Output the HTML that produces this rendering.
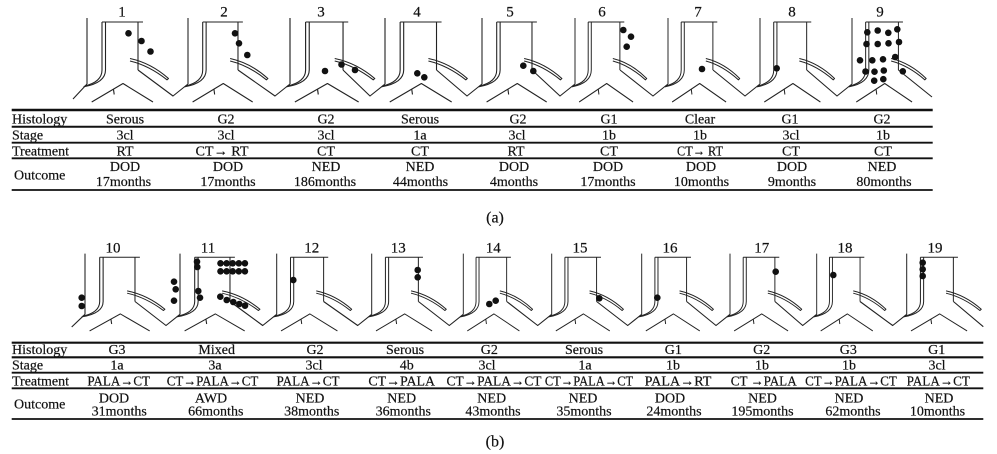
<!DOCTYPE html>
<html>
<head>
<meta charset="utf-8">
<style>
html,body{margin:0;padding:0;background:#fff;}
svg{display:block;}
text{font-family:"Liberation Serif","DejaVu Serif",serif;fill:#111;stroke:#111;stroke-width:0.2;}
</style>
</head>
<body>
<svg width="997" height="454" viewBox="0 0 997 454" xmlns="http://www.w3.org/2000/svg">
<rect width="997" height="454" fill="#fff"/>
<defs>
<g id="v" fill="none" stroke="#222" stroke-width="1.1" stroke-linejoin="round">
<path d="M0,-4 L0,62"/>
<path d="M15,0 L15,48 Q15,60 -2.5,64"/>
<path d="M18.5,0 L18.5,48 Q18.5,61 -3.5,64.8"/>
<path d="M15,0 L56,0"/>
<path d="M51,0 L51,48"/>
<path d="M43,36.5 Q64,41 81.5,56.5 L80,57.8 Q62,43.5 43,39"/>
<path d="M4.7,80 L36,61.5 L66,80"/>
<path d="M26.5,67.5 L27.2,72.5"/>
</g>
</defs>

<!-- ===== (a) vessel drawings ===== -->
<use href="#v" transform="translate(87,22) scale(1,1)"/>
<use href="#v" transform="translate(188,22) scale(.98,1)"/>
<use href="#v" transform="translate(290,22) scale(1.04,1)"/>
<use href="#v" transform="translate(385,22) scale(1.01,1)"/>
<use href="#v" transform="translate(482,22) scale(.98,1)"/>
<use href="#v" transform="translate(575,22) scale(.88,1)"/>
<use href="#v" transform="translate(668,22) scale(.88,1)"/>
<use href="#v" transform="translate(760,22) scale(.915,1)"/>
<use href="#v" transform="translate(852,22) scale(.91,1)"/>
<path fill="none" stroke="#222" stroke-width="1.1" stroke-linejoin="round" d="
M73,99 L87,84
M138,70 L173,96 L188,84
M238,70 L275,96 L290,84
M343,70 L370,96 L385,84
M436.5,70 L467,96 L482,84
M532,70 L560,96 L575,84
M620,70 L653,96 L668,84
M713,70 L745,96 L760,84
M806.7,70 L837,96 L852,84
M898.4,70 L932,97"/>

<g fill="#111">
<circle cx="128.5" cy="33.3" r="3.3"/><circle cx="141.5" cy="41" r="3.3"/><circle cx="150.5" cy="51.5" r="3.3"/>
<circle cx="235" cy="33.3" r="3.3"/><circle cx="239" cy="43.3" r="3.3"/><circle cx="247.3" cy="55" r="3.3"/>
<circle cx="325" cy="71" r="3.3"/><circle cx="341.5" cy="64.5" r="3.3"/><circle cx="355" cy="70" r="3.3"/>
<circle cx="417.3" cy="73.3" r="3.3"/><circle cx="424.3" cy="77.3" r="3.3"/>
<circle cx="523.3" cy="65.7" r="3.3"/><circle cx="533.3" cy="71" r="3.3"/>
<circle cx="623.3" cy="30" r="3.3"/><circle cx="631" cy="36.7" r="3.3"/><circle cx="626.7" cy="46.7" r="3.3"/>
<circle cx="702" cy="69" r="3.3"/>
<circle cx="776.7" cy="68.3" r="3.3"/>
<circle cx="867.3" cy="32.3" r="3.3"/><circle cx="877.7" cy="30.5" r="3.3"/><circle cx="888.3" cy="32.8" r="3.3"/><circle cx="897.3" cy="29.3" r="3.3"/>
<circle cx="866.5" cy="44" r="3.3"/><circle cx="877.7" cy="44" r="3.3"/><circle cx="888.5" cy="43.3" r="3.3"/><circle cx="899" cy="42" r="3.3"/>
<circle cx="860" cy="60.3" r="3.3"/><circle cx="872.3" cy="60.3" r="3.3"/><circle cx="883" cy="59.3" r="3.3"/><circle cx="895.2" cy="57" r="3.3"/>
<circle cx="865.5" cy="71.5" r="3.3"/><circle cx="874.5" cy="71.7" r="3.3"/><circle cx="883.8" cy="70.5" r="3.3"/><circle cx="902.8" cy="71.3" r="3.3"/>
<circle cx="874.2" cy="80.7" r="3.3"/><circle cx="883.3" cy="79.2" r="3.3"/>
</g>

<!-- numbers (a) -->
<g font-size="15" text-anchor="middle">
<text x="122" y="16.7">1</text>
<text x="224" y="16.7">2</text>
<text x="321" y="16.7">3</text>
<text x="417" y="16.7">4</text>
<text x="510" y="16.7">5</text>
<text x="602" y="16.7">6</text>
<text x="698" y="16.7">7</text>
<text x="792" y="16.7">8</text>
<text x="880" y="16.7">9</text>
</g>

<!-- table (a) lines -->
<g stroke="#111" fill="none">
<line x1="11.7" y1="110" x2="932.7" y2="110" stroke-width="2.4"/>
<line x1="11.7" y1="126.7" x2="932.7" y2="126.7" stroke-width="2"/>
<line x1="11.7" y1="142.7" x2="932.7" y2="142.7" stroke-width="1.8"/>
<line x1="11.7" y1="158.3" x2="932.7" y2="158.3" stroke-width="1.8"/>
<line x1="11.7" y1="190" x2="932.7" y2="190" stroke-width="1.8"/>
</g>

<g font-size="14">
<text x="12" y="123.3">Histology</text>
<text x="12" y="139.3">Stage</text>
<text x="12" y="155.7">Treatment</text>
<text x="14" y="179.3">Outcome</text>
</g>

<g font-size="14" text-anchor="middle">
<!-- Histology -->
<text x="125" y="123.3">Serous</text>
<text x="226" y="123.3">G2</text>
<text x="326" y="123.3">G2</text>
<text x="420" y="123.3">Serous</text>
<text x="518" y="123.3">G2</text>
<text x="609" y="123.3">G1</text>
<text x="700" y="123.3">Clear</text>
<text x="790" y="123.3">G1</text>
<text x="882" y="123.3">G2</text>
<!-- Stage -->
<text x="125" y="139.3">3cl</text>
<text x="226" y="139.3">3cl</text>
<text x="326" y="139.3">3cl</text>
<text x="420" y="139.3">1a</text>
<text x="517" y="139.3">3cl</text>
<text x="609" y="139.3">1b</text>
<text x="700" y="139.3">1b</text>
<text x="791" y="139.3">3cl</text>
<text x="883" y="139.3">1b</text>
<!-- Treatment -->
<text x="125" y="155.7">RT</text>
<text x="222" y="155.7" textLength="53" lengthAdjust="spacingAndGlyphs">CT→ RT</text>
<text x="326" y="155.7">CT</text>
<text x="420" y="155.7">CT</text>
<text x="516" y="155.7">RT</text>
<text x="609" y="155.7">CT</text>
<text x="700" y="155.7" textLength="46" lengthAdjust="spacingAndGlyphs">CT→ RT</text>
<text x="791" y="155.7">CT</text>
<text x="883" y="155.7">CT</text>
<!-- Outcome -->
<text x="125" y="171">DOD</text>
<text x="228" y="171">DOD</text>
<text x="326" y="171">NED</text>
<text x="420" y="171">NED</text>
<text x="514" y="171">DOD</text>
<text x="608" y="171">DOD</text>
<text x="701" y="171">DOD</text>
<text x="792" y="171">DOD</text>
<text x="882" y="171">NED</text>
<text x="123.5" y="186">17months</text>
<text x="228" y="186">17months</text>
<text x="325" y="186">186months</text>
<text x="420.5" y="186">44months</text>
<text x="514" y="186">4months</text>
<text x="608" y="186">17months</text>
<text x="701.5" y="186">10months</text>
<text x="792" y="186">9months</text>
<text x="884" y="186">80months</text>
</g>

<text x="495" y="222.5" font-size="16" text-anchor="middle">(a)</text>

<!-- ===== (b) vessel drawings ===== -->
<use href="#v" transform="translate(85,257.3) scale(.98,.92)"/>
<use href="#v" transform="translate(180,257.3) scale(.98,.92)"/>
<use href="#v" transform="translate(276.7,257.3) scale(.92,.92)"/>
<use href="#v" transform="translate(371.7,257.3) scale(.915,.92)"/>
<use href="#v" transform="translate(463.3,257.3) scale(.85,.92)"/>
<use href="#v" transform="translate(551.7,257.3) scale(.88,.92)"/>
<use href="#v" transform="translate(641.7,257.3) scale(.88,.92)"/>
<use href="#v" transform="translate(730,257.3) scale(.88,.92)"/>
<use href="#v" transform="translate(816.7,257.3) scale(.85,.92)"/>
<use href="#v" transform="translate(906.7,257.3) scale(.915,.92)"/>
<path fill="none" stroke="#222" stroke-width="1.1" stroke-linejoin="round" d="
M71.7,327 L85,314.3
M135,301.5 L166,325.5 L180,314.3
M230,301.5 L262.7,325.5 L276.7,314.3
M323.6,301.5 L357.7,325.5 L371.7,314.3
M418.4,301.5 L449.3,325.5 L463.3,314.3
M506.7,301.5 L537.7,325.5 L551.7,314.3
M596.6,301.5 L627.7,325.5 L641.7,314.3
M686.6,301.5 L716,325.5 L730,314.3
M774.9,301.5 L802.7,325.5 L816.7,314.3
M860,301.5 L892.7,325.5 L906.7,314.3
M953.4,301.5 L983.3,326.7"/>

<g fill="#111">
<circle cx="81.7" cy="297.7" r="3.3"/><circle cx="81.7" cy="306" r="3.3"/>
<circle cx="197" cy="261.7" r="3.3"/><circle cx="197.3" cy="267" r="3.3"/><circle cx="198.3" cy="291" r="3.3"/><circle cx="200" cy="297.7" r="3.3"/>
<circle cx="174" cy="281.7" r="3.3"/><circle cx="175.7" cy="289.3" r="3.3"/><circle cx="174" cy="300.7" r="3.3"/>
<circle cx="220.5" cy="263.3" r="3.3"/><circle cx="226.6" cy="263.3" r="3.3"/><circle cx="232.7" cy="263.3" r="3.3"/><circle cx="238.8" cy="263.3" r="3.3"/><circle cx="244.9" cy="263.3" r="3.3"/>
<circle cx="220.5" cy="271.3" r="3.3"/><circle cx="226.6" cy="271.3" r="3.3"/><circle cx="232.7" cy="271.3" r="3.3"/><circle cx="238.8" cy="271.3" r="3.3"/><circle cx="244.9" cy="271.3" r="3.3"/>
<circle cx="220.3" cy="296.7" r="3.3"/><circle cx="226.7" cy="300" r="3.3"/><circle cx="233.3" cy="302" r="3.3"/><circle cx="239.3" cy="304" r="3.3"/><circle cx="245" cy="305.7" r="3.3"/>
<circle cx="293.3" cy="280" r="3.3"/>
<circle cx="417.7" cy="270" r="3.3"/><circle cx="417.7" cy="277.3" r="3.3"/>
<circle cx="489.3" cy="304" r="3.3"/><circle cx="495.7" cy="300.7" r="3.3"/>
<circle cx="599.3" cy="298.3" r="3.3"/>
<circle cx="657.3" cy="297.7" r="3.3"/>
<circle cx="775.7" cy="271.7" r="3.3"/>
<circle cx="833.3" cy="275" r="3.3"/>
<circle cx="922.7" cy="262.7" r="3.3"/><circle cx="922.7" cy="269.3" r="3.3"/><circle cx="922.7" cy="276" r="3.3"/>
</g>

<!-- numbers (b) -->
<g font-size="15" text-anchor="middle">
<text x="113" y="252.3">10</text>
<text x="208" y="252.3">11</text>
<text x="311.7" y="252.3">12</text>
<text x="398.3" y="252.3">13</text>
<text x="493.3" y="252.3">14</text>
<text x="580" y="252.3">15</text>
<text x="670" y="252.3">16</text>
<text x="761.7" y="252.3">17</text>
<text x="845" y="252.3">18</text>
<text x="935" y="252.3">19</text>
</g>

<!-- table (b) lines -->
<g stroke="#111" fill="none">
<line x1="11.7" y1="342.7" x2="983.3" y2="342.7" stroke-width="2.2"/>
<line x1="11.7" y1="357.3" x2="983.3" y2="357.3" stroke-width="2.1"/>
<line x1="11.7" y1="372.7" x2="983.3" y2="372.7" stroke-width="1.8"/>
<line x1="11.7" y1="388.3" x2="983.3" y2="388.3" stroke-width="1.8"/>
<line x1="11.7" y1="419" x2="983.3" y2="419" stroke-width="1.8"/>
</g>

<g font-size="14">
<text x="12" y="354">Histology</text>
<text x="12" y="369.3">Stage</text>
<text x="12" y="385.7">Treatment</text>
<text x="14" y="408.3">Outcome</text>
</g>

<g font-size="14" text-anchor="middle">
<!-- Histology -->
<text x="117" y="354">G3</text>
<text x="216.7" y="354">Mixed</text>
<text x="315" y="354">G2</text>
<text x="405" y="354">Serous</text>
<text x="489.3" y="354">G2</text>
<text x="584" y="354">Serous</text>
<text x="673.3" y="354">G1</text>
<text x="761.7" y="354">G2</text>
<text x="848.3" y="354">G3</text>
<text x="936.7" y="354">G1</text>
<!-- Stage -->
<text x="117" y="369.3">1a</text>
<text x="215" y="369.3">3a</text>
<text x="314" y="369.3">3cl</text>
<text x="406.7" y="369.3">4b</text>
<text x="487" y="369.3">3cl</text>
<text x="585" y="369.3">1a</text>
<text x="673" y="369.3">1b</text>
<text x="762" y="369.3">1b</text>
<text x="849" y="369.3">1b</text>
<text x="937" y="369.3">3cl</text>
<!-- Treatment -->
<text x="118.7" y="385.7" textLength="62.7" lengthAdjust="spacingAndGlyphs">PALA→CT</text>
<text x="212.5" y="385.7" textLength="91.6" lengthAdjust="spacingAndGlyphs">CT→PALA→CT</text>
<text x="308" y="385.7" textLength="63" lengthAdjust="spacingAndGlyphs">PALA→CT</text>
<text x="401.7" y="385.7" textLength="66.7" lengthAdjust="spacingAndGlyphs">CT→PALA</text>
<text x="494" y="385.7" textLength="95" lengthAdjust="spacingAndGlyphs">CT→PALA→CT</text>
<text x="589" y="385.7" textLength="88.3" lengthAdjust="spacingAndGlyphs">CT→PALA→CT</text>
<text x="678" y="385.7" textLength="66.7" lengthAdjust="spacingAndGlyphs">PALA→RT</text>
<text x="763.7" y="385.7" textLength="66" lengthAdjust="spacingAndGlyphs">CT →PALA</text>
<text x="851" y="385.7" textLength="91.7" lengthAdjust="spacingAndGlyphs">CT→PALA→CT</text>
<text x="938.3" y="385.7" textLength="63.3" lengthAdjust="spacingAndGlyphs">PALA→CT</text>
<!-- Outcome -->
<text x="114" y="402.3">DOD</text>
<text x="211" y="402.3">AWD</text>
<text x="310" y="402.3">NED</text>
<text x="401.7" y="402.3">NED</text>
<text x="491.7" y="402.3">NED</text>
<text x="583" y="402.3">NED</text>
<text x="670" y="402.3">DOD</text>
<text x="762.5" y="402.3">NED</text>
<text x="849" y="402.3">NED</text>
<text x="939" y="402.3">NED</text>
<text x="119.2" y="415.7">31months</text>
<text x="215.8" y="415.7">66months</text>
<text x="311.7" y="415.7">38months</text>
<text x="403.3" y="415.7">36months</text>
<text x="493" y="415.7">43months</text>
<text x="584" y="415.7">35months</text>
<text x="674" y="415.7">24months</text>
<text x="762.5" y="415.7">195months</text>
<text x="853" y="415.7">62months</text>
<text x="937.5" y="415.7">10months</text>
</g>

<text x="495" y="446.5" font-size="16" text-anchor="middle">(b)</text>
</svg>
</body>
</html>
